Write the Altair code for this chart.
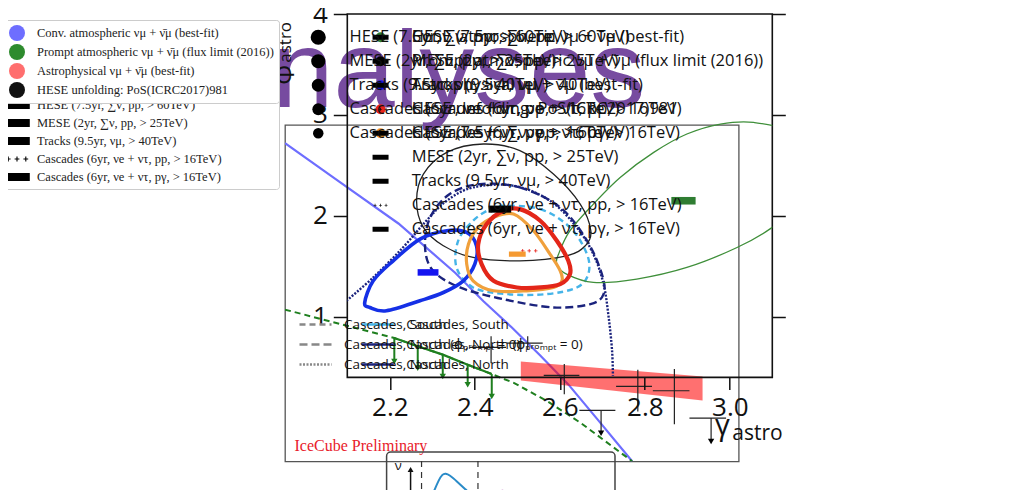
import altair as alt
import pandas as pd

slide_title = "Analyses"

# ---------------- left panel: muon-neutrino flux ----------------
x_tick_values = [1e3, 1e4, 1e5, 1e6, 1e7]
x_tick_labels = ["10³", "10⁴", "10⁵", "10⁶", "10⁷"]
y_tick_values = [1e-9, 1e-8, 1e-7, 1e-6, 1e-5, 1e-4]
y_tick_labels = ["10⁻⁹", "10⁻⁸", "10⁻⁷", "10⁻⁶", "10⁻⁵", "10⁻⁴"]

conv_E = [1e3, 3.16e3, 1e4, 3.16e4, 5.62e4, 1e5, 1.78e5, 3.16e5, 5.62e5, 1.15e6]
conv_F = [5.01e-5, 1.10e-5, 2.40e-6, 3.72e-7, 1.26e-7, 4.68e-8, 1.62e-8, 5.37e-9, 1.48e-9, 2.95e-10]

prompt_E = [1e3, 3.16e3, 9.2e3, 1.48e4, 2.46e4, 4.08e4, 6.65e4, 1.05e5, 2.07e5, 4.07e5, 1.15e6]
prompt_F = [9.2e-8, 5.25e-8, 3.13e-8, 2.29e-8, 1.67e-8, 1.14e-8, 8.0e-9, 5.69e-9, 2.84e-9, 1.25e-9, 2.95e-10]
prompt_limit_E = [9.2e3, 1.48e4, 2.46e4, 4.08e4, 6.65e4]
prompt_limit_top = [3.13e-8, 2.29e-8, 1.67e-8, 1.14e-8, 8.0e-9]
prompt_limit_bottom = [1.29e-8, 1.0e-8, 7.33e-9, 5.35e-9, 3.43e-9]

astro_E = [1.2e5, 4.8e6]
astro_F_low = [6.3e-9, 2.94e-9]
astro_F_high = [1.29e-8, 7.33e-9]

hese_E = [6.56e4, 1.38e5, 2.90e5, 1.29e6, 2.71e6]
hese_E_low = [4.22e4, 9.08e4, 1.91e5, 8.30e5, 1.75e6]
hese_E_high = [8.89e4, 1.87e5, 3.94e5, 1.72e6, 3.68e6]
hese_F = [2.20e-8, 2.59e-8, 7.60e-9, 5.01e-9, 4.26e-9]
hese_F_low = [1.21e-8, 2.02e-8, 3.74e-9, 1.94e-9, 1.20e-9]
hese_F_high = [3.34e-8, 3.34e-8, 1.17e-8, 9.44e-9, 9.66e-9]

hese_lim_E = [6.12e5, 5.71e6]
hese_lim_E_low = [3.94e5, 3.68e6]
hese_lim_E_high = [8.18e5, 7.74e6]
hese_lim_F = [2.02e-9, 1.51e-9]
hese_lim_F_arrow = [8.53e-10, 6.22e-10]

left_legend_labels = [
    "Conv. atmospheric νμ + ν̄μ (best-fit)",
    "Prompt atmospheric νμ + ν̄μ (flux limit (2016))",
    "Astrophysical νμ + ν̄μ (best-fit)",
    "HESE unfolding: PoS(ICRC2017)981",
]
left_legend_colors = ["#6e6eff", "#2e8b2e", "#ff6e6e", "#111111"]
left_x_title = "Eᵥ / GeV"
left_y_title = "E²ᵥ · Φᵥ₊ᵥ̄ / GeV cm⁻² s⁻¹ sr⁻¹"
preliminary_text = "IceCube Preliminary"

# ---------------- right panel: gamma vs phi contours ----------------
gamma_ticks = [2.2, 2.4, 2.6, 2.8, 3.0]
phi_ticks = [1, 2, 3, 4]

mese_g = [2.420, 2.506, 2.585, 2.648, 2.673, 2.660, 2.616, 2.506, 2.396, 2.326, 2.279, 2.263, 2.279, 2.334]
mese_p = [2.712, 2.646, 2.414, 2.117, 1.853, 1.704, 1.605, 1.555, 1.588, 1.704, 1.886, 2.150, 2.414, 2.629]

hese_g = [2.597, 2.624, 2.679, 2.742, 2.821, 2.899, 2.978, 3.056, 3.151, 3.182, 3.151, 3.100, 3.017, 2.899, 2.781, 2.679, 2.616, 2.593]
hese_p = [1.621, 1.853, 2.117, 2.381, 2.629, 2.811, 2.910, 2.926, 2.811, 2.480, 2.084, 1.886, 1.687, 1.489, 1.374, 1.341, 1.423, 1.522]

tracks_g = [2.141, 2.161, 2.208, 2.271, 2.334, 2.381, 2.404, 2.400, 2.373, 2.326, 2.271, 2.192, 2.153]
tracks_p = [1.142, 1.357, 1.555, 1.770, 1.853, 1.836, 1.704, 1.522, 1.357, 1.241, 1.159, 1.060, 1.093]

casc_pp_g = [2.467, 2.506, 2.554, 2.593, 2.620, 2.624, 2.601, 2.554, 2.499, 2.444, 2.416, 2.408, 2.428]
casc_pp_p = [2.051, 2.067, 1.952, 1.754, 1.555, 1.423, 1.324, 1.291, 1.291, 1.357, 1.522, 1.720, 1.919]

casc_pg_g = [2.444, 2.491, 2.538, 2.577, 2.601, 2.605, 2.585, 2.522, 2.444, 2.396, 2.381, 2.385, 2.408]
casc_pg_p = [1.985, 2.018, 1.853, 1.621, 1.456, 1.357, 1.291, 1.258, 1.258, 1.357, 1.522, 1.720, 1.886]

south_g = [2.467, 2.554, 2.624, 2.664, 2.667, 2.640, 2.569, 2.475, 2.396, 2.357, 2.361, 2.396, 2.436]
south_p = [2.100, 2.067, 1.886, 1.621, 1.423, 1.291, 1.225, 1.225, 1.291, 1.489, 1.754, 1.952, 2.067]

north0_g = [2.412, 2.506, 2.601, 2.664, 2.699, 2.703, 2.672, 2.585, 2.467, 2.365, 2.302, 2.283, 2.295, 2.341]
north0_p = [2.315, 2.282, 2.084, 1.754, 1.423, 1.225, 1.126, 1.093, 1.175, 1.291, 1.456, 1.687, 1.985, 2.216]

north_g = [2.098, 2.161, 2.231, 2.286, 2.334, 2.396, 2.491, 2.577, 2.640, 2.679, 2.703, 2.715, 2.723, 2.725]
north_p = [1.159, 1.390, 1.687, 1.952, 2.150, 2.282, 2.299, 2.150, 1.886, 1.621, 1.324, 0.994, 0.663, 0.416]

fit_names = [
    "HESE (7.5yr, ∑ν, pp, > 60TeV)",
    "MESE (2yr, ∑ν, pp, > 25TeV)",
    "Tracks (9.5yr, νμ, > 40TeV)",
    "Cascades (6yr, νe + ντ, pp, > 16TeV)",
    "Cascades (6yr, νe + ντ, pγ, > 16TeV)",
]
fit_g = [2.891, 2.459, 2.290, 2.528, 2.500]
fit_p = [2.150, 2.067, 1.440, 1.654, 1.621]
fit_colors = ["#2f7d32", "#000000", "#1414f0", "#e8221b", "#f59a32"]
fit_shapes = ["star", "square", "circle", "triangle-up", "triangle-down"]
fit_sizes = [230, 110, 130, 150, 150]

line_names = ["Cascades, South", "Cascades, North (ϕₚᵣₒₘₚₜ = 0)", "Cascades, North"]
line_colors = ["#45b4e8", "#1b237d", "#1b237d"]
line_dashes = [[6, 4], [8, 4], [2, 1.5]]

phi_symbol, phi_sub, phi_sup = "Φ", "astro", "νᵢ + ν̄ᵢ"
gamma_symbol, gamma_sub = "γ", "astro"

# ---------------- inset sketch (bottom) ----------------
inset_curve_x = [20.8, 22.8, 24.5, 25.8, 27.6, 30.6, 35.3]
inset_curve_y = [39, 28, 22, 21.3, 23, 29, 39]
inset_dash_x = [15.3, 40.0]
inset_dash_top = [9, 9]
inset_dash_bottom = [80, 80]
inset_arrow_x = [10.5]
inset_arrow_top = [17.5]
inset_arrow_bottom = [80]
inset_label = ["ν"]
inset_label_x = [5.1]
inset_label_y = [14]
inset_ring_x = [50.7]
inset_ring_y = [45]

# =====================================================================
SERIF = "Liberation Serif, DejaVu Serif"
SANS = "Open Sans, DejaVu Sans"


def label_expr(values, labels):
    expr = f"'{labels[-1]}'"
    for v, lab in reversed(list(zip(values[:-1], labels[:-1]))):
        expr = f"datum.value < {v * 3:g} ? '{lab}' : ({expr})"
    return expr


xsL = alt.Scale(type="log", domain=[1e3, 1e7], nice=False)
ysL = alt.Scale(type="log", domain=[2.92e-10, 1e-4], nice=False)

xaxisL = alt.Axis(values=x_tick_values, labelExpr=label_expr(x_tick_values, x_tick_labels),
                  labelFont=SERIF, labelFontSize=12.5, labelColor="#333", ticks=False, tickSize=0,
                  domain=False, grid=True, gridColor="#e4e4e4", labelPadding=4, labelFlush=False,
                  title=left_x_title, titleFont=SERIF, titleFontSize=17, titleFontWeight="normal",
                  titleColor="#222", titlePadding=5)
yaxisL = alt.Axis(values=y_tick_values, labelExpr=label_expr(y_tick_values, y_tick_labels),
                  labelFont=SERIF, labelFontSize=12.5, labelColor="#333", ticks=False, tickSize=0,
                  domain=False, grid=True, gridColor="#e4e4e4", labelPadding=12,
                  title=left_y_title, titleFont=SERIF, titleFontSize=17, titleFontWeight="normal",
                  titleColor="#222", titlePadding=9)


def XL(field, axis=None):
    return alt.X(field, type="quantitative", scale=xsL, axis=axis)


def YL(field, axis=None):
    return alt.Y(field, type="quantitative", scale=ysL, axis=axis)


conv_df = pd.DataFrame({"E": conv_E, "F": conv_F})
prompt_df = pd.DataFrame({"E": prompt_E, "F": prompt_F})
prompt_solid_df = prompt_df[(prompt_df.E >= min(prompt_limit_E)) & (prompt_df.E <= max(prompt_limit_E))]
plim_df = pd.DataFrame({"E": prompt_limit_E, "top": prompt_limit_top, "bottom": prompt_limit_bottom})
astro_df = pd.DataFrame({"E": astro_E, "lo": astro_F_low, "hi": astro_F_high})
hese_df = pd.DataFrame({"E": hese_E, "Elo": hese_E_low, "Ehi": hese_E_high,
                        "F": hese_F, "Flo": hese_F_low, "Fhi": hese_F_high})
hlim_df = pd.DataFrame({"E": hese_lim_E, "Elo": hese_lim_E_low, "Ehi": hese_lim_E_high,
                        "F": hese_lim_F, "Fa": hese_lim_F_arrow})

conv = alt.Chart(conv_df).mark_line(color="#6e6eff", strokeWidth=2.2, clip=True).encode(
    x=XL("E", xaxisL), y=YL("F", yaxisL))
prompt_dash = alt.Chart(prompt_df).mark_line(color="#1f7f1f", strokeWidth=2, strokeDash=[6, 4], clip=True).encode(
    x=XL("E"), y=YL("F"))
prompt_solid = alt.Chart(prompt_solid_df).mark_line(color="#1f7f1f", strokeWidth=2.2).encode(
    x=XL("E"), y=YL("F"))
plim_rule = alt.Chart(plim_df).mark_rule(color="#1f7f1f", strokeWidth=2).encode(
    x=XL("E"), y=YL("top"), y2="bottom")
plim_head = alt.Chart(plim_df).mark_point(shape="triangle-down", filled=True, color="#1f7f1f", size=40, opacity=1).encode(
    x=XL("E"), y=YL("bottom"))
astro = alt.Chart(astro_df).mark_area(color="#ff0000", opacity=0.56).encode(
    x=XL("E"), y=YL("lo"), y2="hi")
hese_h = alt.Chart(hese_df).mark_rule(color="#222", strokeWidth=1.2).encode(x=XL("Elo"), x2="Ehi", y=YL("F"))
hese_v = alt.Chart(hese_df).mark_rule(color="#222", strokeWidth=1.2).encode(x=XL("E"), y=YL("Flo"), y2="Fhi")
hlim_h = alt.Chart(hlim_df).mark_rule(color="#222", strokeWidth=1.2).encode(x=XL("Elo"), x2="Ehi", y=YL("F"))
hlim_v = alt.Chart(hlim_df).mark_rule(color="#222", strokeWidth=1.2).encode(x=XL("E"), y=YL("F"), y2="Fa")
hlim_head = alt.Chart(hlim_df).mark_point(shape="triangle-down", filled=True, color="#000", size=40, opacity=1).encode(
    x=XL("E"), y=YL("Fa"))

patch = "M-1.6,-0.5H1.6V0.5H-1.6Z"
plus = " ".join(
    f"M{c - 0.3:.2f},-0.07H{c + 0.3:.2f}V0.07H{c - 0.3:.2f}Z M{c - 0.07:.2f},-0.3H{c + 0.07:.2f}V0.3H{c - 0.07:.2f}Z"
    for c in (-1.1, 0.0, 1.1))
left_legend_shapes = [patch, patch, patch, plus]
left_leg = alt.Legend(title=None, orient="top-right", offset=6, padding=5, fillColor="white",
                      strokeColor="#cccccc", cornerRadius=3, labelFont=SERIF, labelFontSize=12.5,
                      labelColor="#222", symbolSize=256, symbolStrokeWidth=0, symbolOpacity=1,
                      labelOffset=12, rowPadding=3, labelLimit=500, symbolOffset=5)
leg_df = pd.DataFrame({"s": left_legend_labels})
left_legend = alt.Chart(leg_df).mark_point(filled=True, opacity=0).encode(
    color=alt.Color("s:N", scale=alt.Scale(domain=left_legend_labels, range=left_legend_colors), legend=left_leg),
    shape=alt.Shape("s:N", scale=alt.Scale(domain=left_legend_labels, range=left_legend_shapes), legend=left_leg))

prelim = alt.Chart(pd.DataFrame({"t": [preliminary_text]})).mark_text(
    font=SERIF, fontSize=16, color="#e8202a", align="left", baseline="alphabetic").encode(
    text="t:N", x=alt.value(9.5), y=alt.value(326))
title_txt = alt.Chart(pd.DataFrame({"t": [slide_title]})).mark_text(
    font="Liberation Sans Narrow, Liberation Sans", fontSize=110, color="#774ba0", align="left",
    baseline="alphabetic").encode(text="t:N", x=alt.value(-86), y=alt.value(-18))

left_plot = alt.layer(conv, prompt_dash, prompt_solid, plim_rule, plim_head, astro, hese_h, hese_v,
                      hlim_h, hlim_v, hlim_head, left_legend, prelim, title_txt).properties(
    width=453.7, height=336.5, view=alt.ViewBackground(stroke="#555555", strokeWidth=1.3))

# ---------------- right panel ----------------
xsR = alt.Scale(domain=[2.1, 3.1], nice=False, zero=False)
ysR = alt.Scale(domain=[0.4, 4.0], nice=False, zero=False)
xaxisR = alt.Axis(values=gamma_ticks, format=".1f", labelFont=SANS, labelFontSize=26, labelColor="#111",
                  tickSize=12, tickWidth=1.5, tickColor="#111", domain=False, grid=False, labelPadding=5,
                  title=None, labelFlush=False)
yaxisR = alt.Axis(values=phi_ticks, format="d", labelFont=SANS, labelFontSize=26, labelColor="#111",
                  tickSize=14, tickWidth=1.5, tickColor="#111", domain=False, grid=False, labelPadding=6,
                  title=None, orient="left")
yaxisR2 = alt.Axis(values=phi_ticks, labels=False, tickSize=13, tickWidth=1.5, tickColor="#111",
                   domain=False, grid=False, title=None, orient="right")

xR = alt.X("g", type="quantitative", scale=xsR, axis=xaxisR)


def YR(axis=None):
    return alt.Y("p", type="quantitative", scale=ysR, axis=axis)


def cdf(g, p):
    return pd.DataFrame({"g": g, "p": p, "i": list(range(len(g)))})


def contour(g, p, color, width, axis=None):
    return alt.Chart(cdf(g, p)).mark_line(color=color, strokeWidth=width, interpolate="cardinal-closed",
                                          clip=True).encode(x=xR, y=YR(axis), order="i:Q")


lines_leg = alt.Legend(title=None, orient="none", legendX=21, legendY=301, padding=0, labelFont=SANS,
                       labelFontSize=13.5, labelColor="#111", symbolType="M-2,0H2", symbolSize=256,
                       symbolStrokeWidth=2.4, labelOffset=19, rowPadding=4, labelLimit=500)
line_color_scale = alt.Scale(domain=line_names, range=line_colors)
line_dash_scale = alt.Scale(domain=line_names, range=line_dashes)

dash_df = pd.concat([cdf(south_g, south_p).assign(name=line_names[0]),
                     cdf(north0_g, north0_p).assign(name=line_names[1])])
dotted_df = cdf(north_g, north_p).assign(name=line_names[2])
dashed = alt.Chart(dash_df).mark_line(interpolate="cardinal-closed", strokeWidth=2.4, clip=True).encode(
    x=xR, y=YR(), order="i:Q",
    color=alt.Color("name:N", scale=line_color_scale, legend=lines_leg),
    strokeDash=alt.StrokeDash("name:N", scale=line_dash_scale, legend=lines_leg))
dotted = alt.Chart(dotted_df).mark_line(interpolate="cardinal", strokeWidth=2.4, clip=True).encode(
    x=xR, y=YR(), order="i:Q",
    color=alt.Color("name:N", scale=line_color_scale, legend=lines_leg),
    strokeDash=alt.StrokeDash("name:N", scale=line_dash_scale, legend=lines_leg))
lines_layer = alt.layer(dotted, dashed)

pts_leg = alt.Legend(title=None, orient="none", legendX=25, legendY=15, padding=0, labelFont=SANS,
                     labelFontSize=16.5, labelColor="#111", symbolStrokeWidth=0, symbolOpacity=1,
                     labelOffset=23, rowPadding=7, labelLimit=500)
pts_df = pd.DataFrame({"name": fit_names, "g": fit_g, "p": fit_p})
pts = alt.Chart(pts_df).mark_point(filled=True, opacity=1).encode(
    x=xR, y=YR(),
    color=alt.Color("name:N", scale=alt.Scale(domain=fit_names, range=fit_colors), legend=pts_leg),
    shape=alt.Shape("name:N", scale=alt.Scale(domain=fit_names, range=fit_shapes), legend=pts_leg),
    size=alt.Size("name:N", scale=alt.Scale(domain=fit_names, range=fit_sizes), legend=pts_leg))


def rtext(txt, x, y, size, angle=0, align="left", baseline="alphabetic"):
    kw = dict(font=SANS, fontSize=size, color="#111", align=align, baseline=baseline)
    if angle:
        kw["angle"] = angle
    return alt.Chart(pd.DataFrame({"t": [txt]})).mark_text(**kw).encode(
        text="t:N", x=alt.value(x), y=alt.value(y))


right_plot = alt.layer(
    lines_layer,
    contour(hese_g, hese_p, "#3f8f3a", 1.3, yaxisR2),
    contour(mese_g, mese_p, "#222222", 1.3, yaxisR),
    contour(tracks_g, tracks_p, "#1530e6", 3.6),
    contour(casc_pg_g, casc_pg_p, "#f0a03c", 3.2),
    contour(casc_pp_g, casc_pp_p, "#e32619", 4.2),
    pts,
    rtext(phi_symbol, -61, 60.7, 25, 270, "center", "middle"),
    rtext(phi_sub, -56.7, 48.7, 17, 270),
    rtext(phi_sup, -73, 46.7, 16, 270),
    rtext(gamma_symbol, 375, 421, 29, 0, "center"),
    rtext(gamma_sub, 385, 426, 21),
).resolve_scale(color="independent").resolve_axis(y="independent").properties(
    width=425, height=363.4, view=alt.ViewBackground(stroke="#111111", strokeWidth=1.6))

# ---------------- inset ----------------
xsI = alt.Scale(domain=[0, 100], nice=False)
ysI = alt.Scale(domain=[0, 80], nice=False, reverse=True)
XI = alt.X("x", type="quantitative", scale=xsI, axis=None)
YI = alt.Y("y", type="quantitative", scale=ysI, axis=None)
inset = alt.layer(
    alt.Chart(pd.DataFrame({"x": inset_curve_x, "y": inset_curve_y})).mark_line(
        color="#2a8bc8", strokeWidth=2, interpolate="basis").encode(x=XI, y=YI),
    alt.Chart(pd.DataFrame({"x": inset_dash_x, "y": inset_dash_top, "y2": inset_dash_bottom})).mark_rule(
        color="#333", strokeWidth=1.2, strokeDash=[6, 5]).encode(x=XI, y=YI, y2="y2"),
    alt.Chart(pd.DataFrame({"x": inset_arrow_x, "y": inset_arrow_top, "y2": inset_arrow_bottom})).mark_rule(
        color="#111", strokeWidth=1.5).encode(x=XI, y=YI, y2="y2"),
    alt.Chart(pd.DataFrame({"x": inset_arrow_x, "y": inset_arrow_top})).mark_point(
        shape="triangle-up", filled=True, color="#111", size=35, opacity=1).encode(x=XI, y=YI),
    alt.Chart(pd.DataFrame({"x": inset_label_x, "y": inset_label_y, "t": inset_label})).mark_text(
        font=SANS, fontSize=13, color="#111").encode(x=XI, y=YI, text="t:N"),
    alt.Chart(pd.DataFrame({"x": inset_ring_x, "y": inset_ring_y})).mark_point(
        color="#9b3fa0", strokeWidth=3, size=130, opacity=1).encode(x=XI, y=YI),
).properties(width=228.4, height=80,
             view=alt.ViewBackground(stroke="#444444", strokeWidth=1.5, cornerRadius=4))


def spacer(w, h):
    return alt.Chart(pd.DataFrame({"v": [0]})).mark_point(opacity=0).properties(
        width=w, height=h, view=alt.ViewBackground(strokeOpacity=0))


left_col = alt.vconcat(spacer(453.7, 100), left_plot, spacing=11, bounds="flush")
inset_row = alt.hconcat(spacer(1, 10), inset, spacing=38.3, bounds="flush")
right_col = alt.vconcat(right_plot, inset_row, spacing=74, bounds="flush")

chart = alt.hconcat(left_col, right_col, spacing=62.3, bounds="flush").properties(
    padding={"left": -10, "top": -8, "right": 0, "bottom": 0}, background="white")

chart.save("out.html", embed_options={"renderer": "svg", "actions": False})
